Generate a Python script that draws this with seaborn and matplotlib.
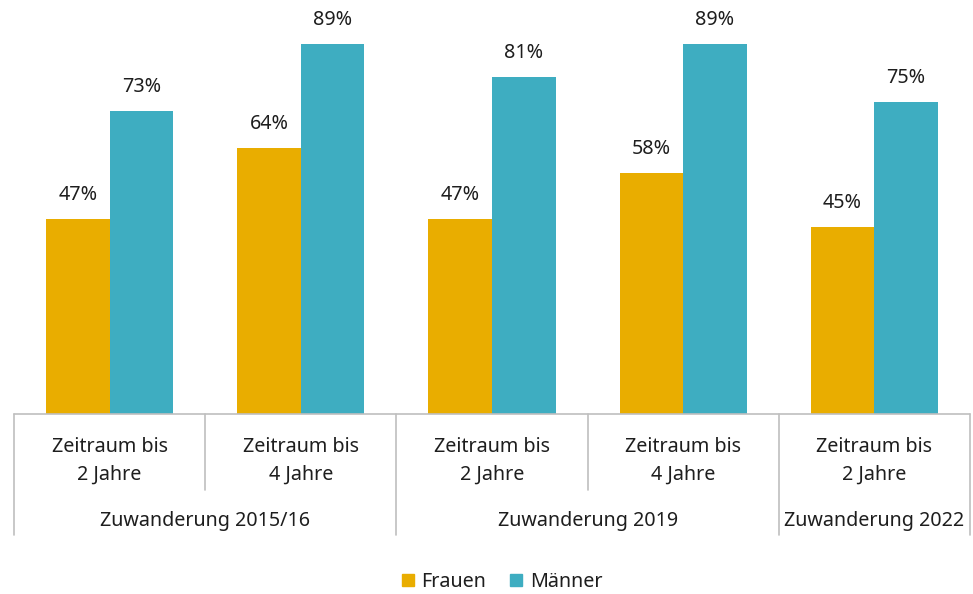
import pandas as pd
import matplotlib.pyplot as plt
import seaborn as sns

# data
categories = ["2015/16 · 2 J", "2015/16 · 4 J", "2019 · 2 J", "2019 · 4 J", "2022 · 2 J"]
period_labels = ["Zeitraum bis\n2 Jahre", "Zeitraum bis\n4 Jahre", "Zeitraum bis\n2 Jahre",
                 "Zeitraum bis\n4 Jahre", "Zeitraum bis\n2 Jahre"]
group_labels = ["Zuwanderung 2015/16", "Zuwanderung 2019", "Zuwanderung 2022"]
group_sizes = [2, 2, 1]
frauen = [47, 64, 47, 58, 45]
maenner = [73, 89, 81, 89, 75]

df = pd.DataFrame({
    "kategorie": categories * 2,
    "wert": frauen + maenner,
    "geschlecht": ["Frauen"] * len(categories) + ["Männer"] * len(categories),
})

sns.set_theme(style="white")
plt.rcParams["font.family"] = ["Noto Sans", "DejaVu Sans"]
palette = {"Frauen": "#E9AD00", "Männer": "#3EADC1"}
line_col = "#BFBFBF"
txt_col = "#1E1E1E"
fs = 14.2

fig = plt.figure(figsize=(9.73, 5.94), dpi=100)
ax = fig.add_axes([14 / 973, 180 / 594, 956 / 973, 414 / 594])

sns.barplot(data=df, x="kategorie", y="wert", hue="geschlecht", palette=palette,
            width=0.665, saturation=1, linewidth=0, ax=ax, legend=False)
for cont in ax.containers:
    ax.bar_label(cont, fmt="%d%%", padding=10, fontsize=fs, color=txt_col)

ax.set_xlim(-0.5, len(categories) - 0.5)
ax.set_ylim(0, 99.6)
ax.set_xlabel("")
ax.set_ylabel("")
ax.set_xticks([])
ax.set_yticks([])
sns.despine(ax=ax, left=True, bottom=True)

trans = ax.get_xaxis_transform()
ax.plot([-0.5, len(categories) - 0.5], [0, 0], color=line_col, lw=1.2,
        transform=trans, clip_on=False)

# separators: long at group borders, short inside groups
bounds = [0]
for s in group_sizes:
    bounds.append(bounds[-1] + s)
for i in range(len(categories) + 1):
    y_end = -0.292 if i in bounds else -0.184
    ax.plot([i - 0.5, i - 0.5], [0, y_end], color=line_col, lw=1.2,
            transform=trans, clip_on=False)

for i, lab in enumerate(period_labels):
    ax.text(i, -0.113, lab, transform=trans, ha="center", va="center",
            fontsize=fs, color=txt_col, linespacing=1.5)

for k, lab in enumerate(group_labels):
    xc = (bounds[k] + bounds[k + 1] - 1) / 2
    ax.text(xc, -0.259, lab, transform=trans, ha="center", va="center",
            fontsize=fs, color=txt_col)

handles = [plt.Rectangle((0, 0), 1, 1, color=palette[g]) for g in ["Frauen", "Männer"]]
fig.legend(handles, ["Frauen", "Männer"], loc="center", bbox_to_anchor=(0.516, 0.02),
           ncol=2, frameon=False, fontsize=fs, handlelength=0.6, handleheight=0.6,
           handletextpad=0.4, columnspacing=1.2, labelcolor=txt_col)

fig.savefig("out.png", dpi=100)
